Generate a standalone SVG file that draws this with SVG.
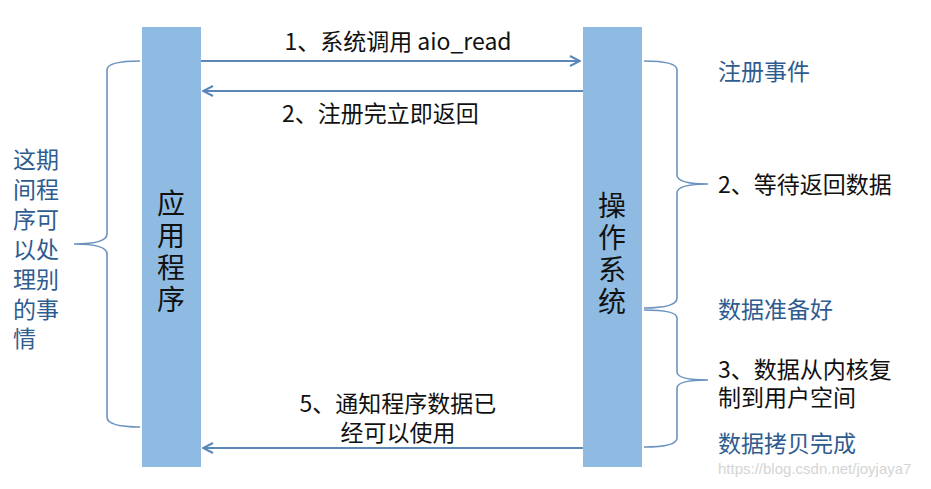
<svg xmlns="http://www.w3.org/2000/svg" width="931" height="489" viewBox="0 0 931 489">
<defs>
<style>
.bar{fill:#8fbbe3}
.t{font-family:"Noto Sans CJK SC","Liberation Sans",sans-serif;font-size:23px;fill:#111}
.b{font-family:"Noto Sans CJK SC","Liberation Sans",sans-serif;font-size:23px;fill:#2f5c8f}
.v{font-family:"Noto Sans CJK SC",sans-serif;font-size:28px;fill:#111;text-anchor:middle}
.ln{stroke:#5b87b8;stroke-width:2;fill:none}
.br{stroke:#6b93c0;stroke-width:1.6;fill:none}
</style>
<marker id="ah" viewBox="0 0 12 12" refX="11" refY="6" markerWidth="12" markerHeight="12" markerUnits="userSpaceOnUse" orient="auto"><path d="M1,1 L11,6 L1,11" fill="none" stroke="#5b87b8" stroke-width="2"/></marker>
</defs>
<rect width="931" height="489" fill="#fff"/>
<g id="app"><rect class="bar" x="142" y="27" width="59" height="440"/>
<text class="v"><tspan x="171" y="214">应</tspan><tspan x="171" y="246">用</tspan><tspan x="171" y="278">程</tspan><tspan x="171" y="310">序</tspan></text></g>
<g id="os"><rect class="bar" x="583" y="27" width="59" height="440"/>
<text class="v"><tspan x="612" y="216">操</tspan><tspan x="612" y="248">作</tspan><tspan x="612" y="280">系</tspan><tspan x="612" y="312">统</tspan></text></g>
<g id="connectors">
<line class="ln" x1="201" y1="61" x2="580" y2="61" marker-end="url(#ah)"/>
<line class="ln" x1="583" y1="91" x2="203" y2="91" marker-end="url(#ah)"/>
<line class="ln" x1="583" y1="448" x2="203" y2="448" marker-end="url(#ah)"/>
<path class="br" d="M140,61 Q107,61 107,70 L107,234 Q107,244 74,244 Q107,244 107,254 L107,417 Q107,427 140,427"/>
<path class="br" d="M644,61 Q677,61 677,70 L677,175 Q677,184 708,184 Q677,184 677,193 L677,298 Q677,308 644,308"/>
<path class="br" d="M644,310 Q677,310 677,318 L677,372 Q677,380 708,380 Q677,380 677,388 L677,438 Q677,447 644,447"/>
</g>
<g id="labels">
<text class="t" x="398" y="50" text-anchor="middle">1、系统调用 aio_read</text>
<text class="t" x="282" y="122">2、注册完立即返回</text>
<text class="t" x="398" y="412" text-anchor="middle">5、通知程序数据已</text>
<text class="t" x="398" y="441" text-anchor="middle">经可以使用</text>
<text class="b" x="718" y="80">注册事件</text>
<text class="t" x="718" y="193">2、等待返回数据</text>
<text class="b" x="718" y="318">数据准备好</text>
<text class="t" x="718" y="378">3、数据从内核复</text>
<text class="t" x="718" y="406">制到用户空间</text>
<text class="b" x="718" y="452">数据拷贝完成</text>
<text font-family="Liberation Sans,sans-serif" font-size="15" fill="#d4d4d4" x="718" y="474">https://blog.csdn.net/joyjaya7</text>
<text class="b"><tspan x="13" y="168">这期</tspan><tspan x="13" y="198">间程</tspan><tspan x="13" y="228">序可</tspan><tspan x="13" y="258">以处</tspan><tspan x="13" y="288">理别</tspan><tspan x="13" y="318">的事</tspan><tspan x="13" y="347">情</tspan></text>
</g>
</svg>
